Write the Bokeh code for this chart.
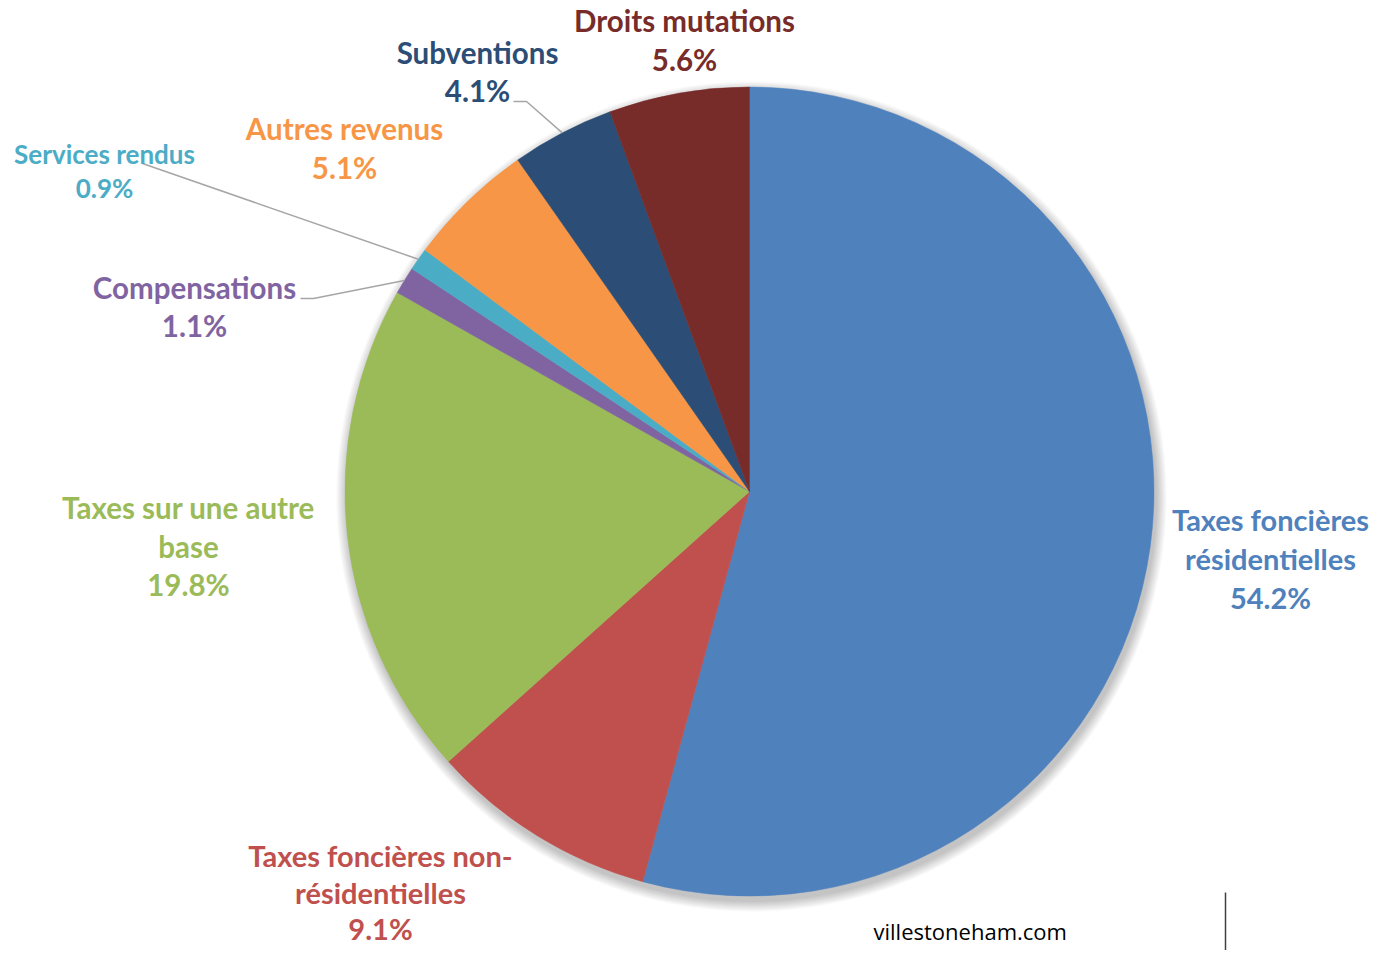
import math
from bokeh.plotting import figure
from bokeh.models import Range1d
from bokeh.core.properties import value
from bokeh.embed import file_html
from bokeh.resources import INLINE

# ---- data ----
categories = ["Taxes foncières résidentielles", "Taxes foncières non-résidentielles",
              "Taxes sur une autre base", "Compensations", "Services rendus",
              "Autres revenus", "Subventions", "Droits mutations"]
shares = [54.2, 9.1, 19.8, 1.1, 0.9, 5.1, 4.1, 5.6]
label_lines = [["Taxes foncières", "résidentielles"],
               ["Taxes foncières non-", "résidentielles"],
               ["Taxes sur une autre", "base"],
               ["Compensations"], ["Services rendus"], ["Autres revenus"],
               ["Subventions"], ["Droits mutations"]]
colors = ["#4F81BD", "#C0504D", "#9BBB59", "#8064A2", "#4BACC6", "#F79646", "#2C4D75", "#772C2A"]
text_colors = ["#4F81BD", "#C0504D", "#9BBB59", "#8064A2", "#4BACC6", "#F79646", "#2C4D75", "#772C2A"]

# ---- layout (picture pixel coordinates) ----
W, H = 1370, 950
CX, CY, R = 749, 491, 404.5
BASE_FIX = 10  # renderer places alphabetic baseline this much lower
# label: centre x, baseline of first line, line spacing, font size
label_pos = [(1270, 529, 39, 29), (380, 865, 36.5, 29), (188, 517, 38.5, 29.5),
             (194, 297, 38, 29.5), (104, 163, 34, 26), (344, 138, 39, 29.5),
             (477, 62, 38, 29.5), (684, 30, 39, 29.5)]
# leader lines: label-side anchor points
leaders = {3: [(300, 298), (313, 298)], 4: [(142, 163)], 6: [(513, 101), (526, 101)]}

FONT = "Lato"

def px(x):
    return x

def py(y):
    return H - y

p = figure(width=W, height=H, output_backend="svg", toolbar_location=None,
           x_range=Range1d(0, W), y_range=Range1d(0, H),
           min_border=0, outline_line_color=None)
p.axis.visible = False
p.grid.visible = False
p.background_fill_color = "white"
p.border_fill_color = "white"

# soft shadow
for k in range(12, 0, -1):
    p.circle(x=[px(CX + 2)], y=[py(CY + 5)], radius=R + k * 0.9,
             fill_color="black", fill_alpha=0.018, line_color=None)

total = sum(shares)
cum = 0.0
mids = []
for i, s in enumerate(shares):
    a0 = math.pi / 2 - cum / total * 2 * math.pi
    cum += s
    a1 = math.pi / 2 - cum / total * 2 * math.pi
    mids.append((a0 + a1) / 2)
    p.wedge(x=[px(CX)], y=[py(CY)], radius=R, start_angle=a0, end_angle=a1,
            direction="clock", fill_color=colors[i], line_color=colors[i], line_width=0.5)

# leader lines
for i, pts in leaders.items():
    ex = CX + R * math.cos(mids[i])
    ey = CY - R * math.sin(mids[i])
    xs = [px(a) for a, b in pts] + [px(ex)]
    ys = [py(b) for a, b in pts] + [py(ey)]
    p.line(xs, ys, line_color="#A6A6A6", line_width=1.5)

# labels
for i, lines in enumerate(label_lines):
    cx, by, sp, fs = label_pos[i]
    rows = lines + [f"{shares[i]:.1f}%"]
    for j, t in enumerate(rows):
        p.text(x=[px(cx)], y=[py(by + j * sp - BASE_FIX)], text=[t], text_align="center",
               text_baseline="alphabetic", text_color=text_colors[i],
               text_font=value(FONT), text_font_style="bold",
               text_font_size=f"{fs}px")

# footer
p.text(x=[px(873)], y=[py(940 - BASE_FIX)], text=["villestoneham.com"], text_align="left",
       text_baseline="alphabetic", text_color="#000000", text_font=value("Open Sans"),
       text_font_size="22px")
p.line([px(1225), px(1225)], [py(892), py(950)], line_color="#404040", line_width=1.5)

open("out.html", "w").write(file_html(p, INLINE))
